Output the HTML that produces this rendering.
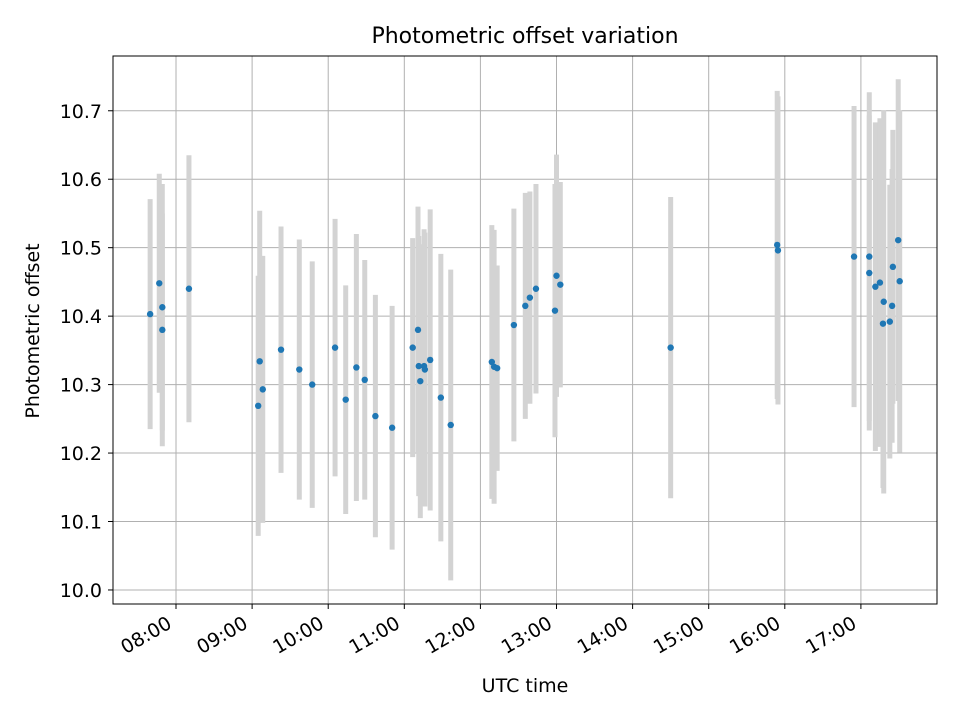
<!DOCTYPE html>
<html><head><meta charset="utf-8"><style>
body{margin:0;background:#fff;font-family:"Liberation Sans","DejaVu Sans",sans-serif}
svg text{font-family:"DejaVu Sans","Liberation Sans",sans-serif;fill:#000}
</style></head><body>
<svg id="chart" width="960" height="720" xmlns="http://www.w3.org/2000/svg">
<rect width="960" height="720" fill="#fff"/>
<g id="grid"></g>
<g id="errs"></g>
<g id="pts"></g>
<rect x="113" y="56" width="824" height="548" fill="none" stroke="#000" stroke-width="1"/>
<g id="axes"></g>
<text x="525" y="43" style="font-size:22px" text-anchor="middle">Photometric offset variation</text>
<text x="525" y="692" style="font-size:19px" text-anchor="middle">UTC time</text>
<text x="39" y="331" style="font-size:19px" text-anchor="middle" transform="rotate(-90 39 331)">Photometric offset</text>
</svg>
<script>
const times=[7.66,7.78,7.82,7.82,8.17,9.08,9.10,9.14,9.38,9.62,9.79,10.09,10.23,10.37,10.48,10.62,10.84,11.11,11.18,11.19,11.21,11.26,11.27,11.34,11.48,11.61,12.15,12.18,12.22,12.44,12.59,12.65,12.73,12.98,13.0,13.05,14.50,15.90,15.91,16.91,17.11,17.11,17.19,17.25,17.30,17.29,17.38,17.41,17.42,17.49,17.51];
const offsets=[10.403,10.448,10.413,10.380,10.440,10.269,10.334,10.293,10.351,10.322,10.300,10.354,10.278,10.325,10.307,10.254,10.237,10.354,10.380,10.327,10.305,10.327,10.322,10.336,10.281,10.241,10.333,10.326,10.324,10.387,10.415,10.427,10.440,10.408,10.459,10.446,10.354,10.504,10.496,10.487,10.487,10.463,10.443,10.449,10.421,10.389,10.392,10.415,10.472,10.511,10.451];
const errors=[0.168,0.16,0.18,0.17,0.195,0.19,0.22,0.195,0.18,0.19,0.18,0.188,0.167,0.195,0.175,0.177,0.178,0.16,0.18,0.19,0.2,0.2,0.2,0.22,0.21,0.227,0.2,0.2,0.15,0.17,0.165,0.155,0.153,0.185,0.177,0.15,0.22,0.225,0.225,0.22,0.24,0.23,0.24,0.24,0.28,0.24,0.2,0.2,0.2,0.235,0.25];
const yTicks=[10.0,10.1,10.2,10.3,10.4,10.5,10.6,10.7];
const xTicks=[8,9,10,11,12,13,14,15,16,17];
const xTickLabels=["08:00","09:00","10:00","11:00","12:00","13:00","14:00","15:00","16:00","17:00"];
const X0=113,X1=937,Y0=604,Y1=56,xmin=7.172,xmax=18.0,ymin=9.9795,ymax=10.780;
const sx=h=>X0+(h-xmin)/(xmax-xmin)*(X1-X0);
const sy=v=>Y0-(v-ymin)/(ymax-ymin)*(Y0-Y1);
const NS="http://www.w3.org/2000/svg";
function mk(tag,attrs,parent){const e=document.createElementNS(NS,tag);for(const k in attrs)e.setAttribute(k,attrs[k]);parent.appendChild(e);return e;}
const grid=document.getElementById('grid'),axes=document.getElementById('axes'),errs=document.getElementById('errs'),pts=document.getElementById('pts');
yTicks.forEach(t=>{const y=sy(t);
const g=mk('line',{x1:X0,x2:X1,y1:y,y2:y,stroke:'#b0b0b0','stroke-width':1},grid);


const tk=mk('line',{x1:X0-5,x2:X0,y1:y,y2:y,stroke:'#000'},axes);


const tx=mk('text',{x:X0-11,y:y+7,style:'font-size:19px','text-anchor':'end'},axes);tx.textContent=t.toFixed(1);


});
xTicks.forEach((t,i)=>{const x=sx(t);
const g=mk('line',{x1:x,x2:x,y1:Y1,y2:Y0,stroke:'#b0b0b0','stroke-width':1},grid);


const tk=mk('line',{x1:x,x2:x,y1:Y0,y2:Y0+5,stroke:'#000'},axes);


const ax=x-3,ay=Y0+23;
const tx=mk('text',{x:ax,y:ay,style:'font-size:19px','text-anchor':'end',transform:`rotate(-30 ${ax} ${ay})`},axes);tx.textContent=xTickLabels[i];


});
times.forEach((h,i)=>{const x=sx(h);
const e=mk('line',{x1:x,x2:x,y1:sy(offsets[i]+errors[i]),y2:sy(offsets[i]-errors[i]),stroke:'#d3d3d3','stroke-width':5},errs);


});
times.forEach((h,i)=>{
const c=mk('circle',{cx:sx(h),cy:sy(offsets[i]),r:3.2,fill:'#1f77b4'},pts);


});
</script>
</body></html>
